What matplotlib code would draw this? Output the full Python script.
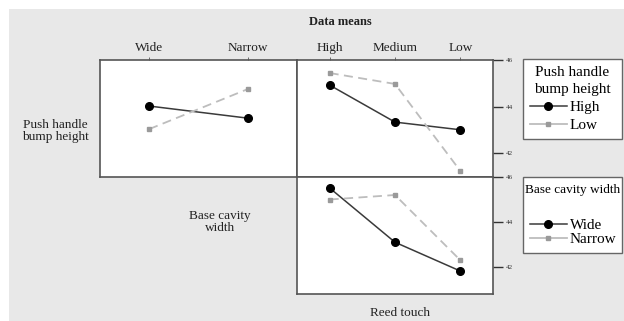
import matplotlib.pyplot as plt
from matplotlib.patches import Rectangle
from matplotlib.lines import Line2D

plt.rcParams['font.family'] = ['Liberation Serif', 'DejaVu Serif']

# data means
width_levels = ['Wide', 'Narrow']
reed_levels = ['High', 'Medium', 'Low']
bump_levels = ['High', 'Low']

# push handle bump height x base cavity width
bump_by_width = {
    'High': [44.02, 43.50],
    'Low': [43.03, 44.75],
}
# push handle bump height x reed touch
bump_by_reed = {
    'High': [44.92, 43.33, 43.00],
    'Low': [45.44, 44.97, 41.23],
}
# base cavity width x reed touch
width_by_reed = {
    'Wide': [45.51, 43.10, 41.82],
    'Narrow': [45.00, 45.20, 42.30],
}
y_ticks = [42, 44, 46]

W, H = 624, 321
fig = plt.figure(figsize=(W / 100, H / 100), dpi=100, facecolor='white')
fig.patches.append(Rectangle((9 / W, 0), 1, 1 - 9 / H, transform=fig.transFigure,
                             facecolor='#e8e8e8', edgecolor='none', zorder=-10))


def box(x0, y0, x1, y1):
    return [x0 / W, 1 - y1 / H, (x1 - x0) / W, (y1 - y0) / H]


styles = [
    dict(color='#3a3a3a', lw=1.1, ls='-', marker='o', ms=5.5, mfc='black', mec='black'),
    dict(color='#bdbdbd', lw=1.3, ls=(0, (5, 3)), marker='s', ms=3.5, mfc='#9a9a9a', mec='#9a9a9a'),
]

ax_tl = fig.add_axes(box(100, 60, 297, 177))
ax_tr = fig.add_axes(box(297, 60, 493, 177))
ax_br = fig.add_axes(box(297, 177, 493, 294))

for st, lvl in zip(styles, bump_levels):
    ax_tl.plot(range(len(width_levels)), bump_by_width[lvl], **st)
    ax_tr.plot(range(len(reed_levels)), bump_by_reed[lvl], **st)
for st, lvl in zip(styles, width_levels):
    ax_br.plot(range(len(reed_levels)), width_by_reed[lvl], **st)

for ax in (ax_tl, ax_tr, ax_br):
    ax.set_facecolor('white')
    for s in ax.spines.values():
        s.set_color('#555555')
        s.set_linewidth(1.2)
    ax.tick_params(colors='#555555', labelcolor='#222222')

ax_tl.set_xlim(-0.5, 1.5)
ax_tr.set_xlim(-0.5, 2.5)
ax_br.set_xlim(-0.5, 2.5)
ax_tl.set_ylim(40.97, 46)
ax_tr.set_ylim(40.97, 46)
ax_br.set_ylim(40.8, 46)

# category labels along the top
ax_tl.xaxis.tick_top()
ax_tl.set_xticks(range(len(width_levels)), width_levels)
ax_tr.xaxis.tick_top()
ax_tr.set_xticks(range(len(reed_levels)), reed_levels)
for ax in (ax_tl, ax_tr):
    ax.tick_params(axis='x', length=2, width=0.6, labelsize=9.5, pad=2)
ax_br.set_xticks([])
ax_tl.set_yticks([])

for ax in (ax_tr, ax_br):
    ax.yaxis.tick_right()
    ax.set_yticks(y_ticks)
    ax.tick_params(axis='y', length=7, width=1.0, labelsize=5, pad=2, colors='#333333')

fig.text(340 / W, 1 - 22 / H, 'Data means', ha='center', va='center',
         fontsize=9, fontweight='bold', color='#222222')
fig.text(55 / W, 1 - 131 / H, 'Push handle\nbump height', ha='center', va='center',
         fontsize=9.5, color='#222222', linespacing=1.05)
fig.text(220 / W, 1 - 222 / H, 'Base cavity\nwidth', ha='center', va='center',
         fontsize=9.5, color='#222222', linespacing=1.05)
fig.text(400 / W, 1 - 313 / H, 'Reed touch', ha='center', va='center',
         fontsize=9.5, color='#222222')


def handle(st):
    return Line2D([], [], **{k: v for k, v in st.items() if k != 'ls'}, ls='-')


legend_kw = dict(loc='upper left', mode='expand', frameon=True, fancybox=False,
                 framealpha=1, edgecolor='#666666', fontsize=11,
                 handlelength=2.4, handletextpad=0.2, borderaxespad=0)
leg1 = fig.legend([handle(s) for s in styles], bump_levels,
                  title='Push handle\nbump height', title_fontsize=11,
                  borderpad=0.45, labelspacing=0.3,
                  bbox_to_anchor=(523 / W, 1 - 135 / H, 99 / W, 76 / H), **legend_kw)
leg1.get_title().set_multialignment('center')
leg1.get_title().set_linespacing(1.4)
leg2 = fig.legend([handle(s) for s in styles], width_levels,
                  title='Base cavity width\n', title_fontsize=9.5,
                  borderpad=0.45, labelspacing=0.0,
                  bbox_to_anchor=(523 / W, 1 - 250 / H, 99 / W, 73 / H), **legend_kw)
leg2.get_title().set_linespacing(2.2)

fig.savefig('out.png', dpi=100)
